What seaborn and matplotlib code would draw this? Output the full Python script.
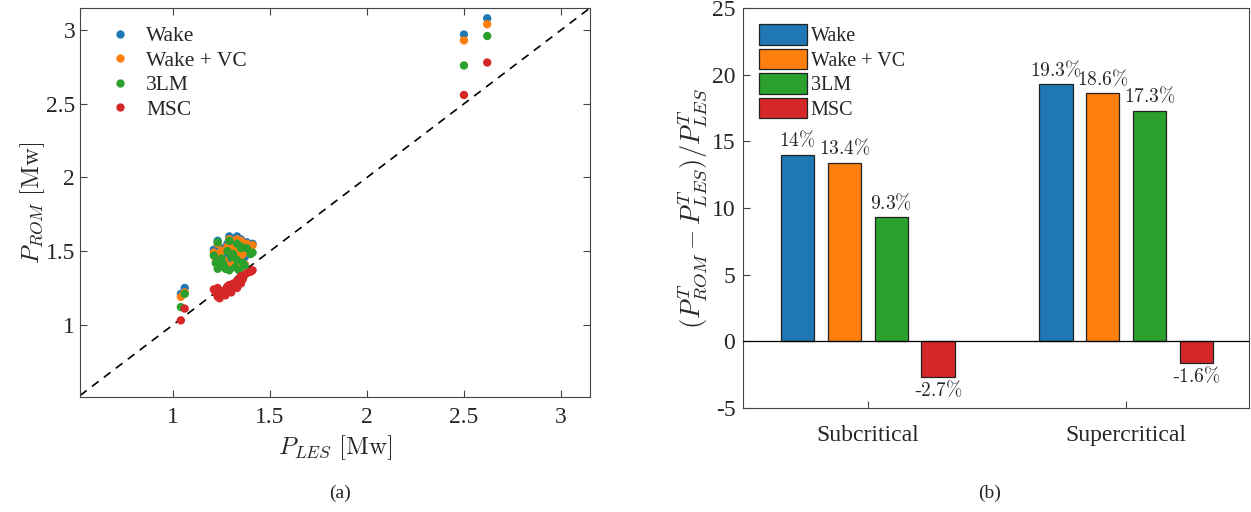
import numpy as np
import pandas as pd
import matplotlib
matplotlib.use("Agg")
import matplotlib.pyplot as plt
import seaborn as sns

# ---------------- data ----------------
models = ["Wake", "Wake + VC", "3LM", "MSC"]
colors = ["#1f77b4", "#ff7f0e", "#2ca02c", "#d62728"]

p_les = [1.04, 1.06,
         1.21, 1.22, 1.23, 1.23, 1.24, 1.25, 1.26, 1.27, 1.28, 1.29, 1.29, 1.30,
         1.31, 1.32, 1.33, 1.33, 1.34, 1.35, 1.36, 1.37, 1.38, 1.40, 1.41, 1.35,
         2.50, 2.62]
p_wake = [1.21, 1.25,
          1.51, 1.46, 1.57, 1.48, 1.44, 1.52, 1.47, 1.43, 1.55, 1.60, 1.45, 1.50,
          1.54, 1.47, 1.60, 1.52, 1.45, 1.58, 1.50, 1.46, 1.56, 1.53, 1.55, 1.49,
          2.97, 3.08]
p_wake_vc = [1.19, 1.22,
             1.49, 1.45, 1.55, 1.46, 1.42, 1.50, 1.44, 1.41, 1.53, 1.58, 1.40, 1.48,
             1.52, 1.42, 1.58, 1.50, 1.41, 1.57, 1.48, 1.41, 1.55, 1.52, 1.54, 1.47,
             2.93, 3.04]
p_3lm = [1.12, 1.21,
         1.47, 1.42, 1.56, 1.38, 1.40, 1.45, 1.41, 1.38, 1.50, 1.57, 1.37, 1.46,
         1.48, 1.39, 1.55, 1.44, 1.37, 1.53, 1.42, 1.40, 1.52, 1.48, 1.49, 1.52,
         2.76, 2.96]
p_msc = [1.03, 1.11,
         1.24, 1.22, 1.19, 1.25, 1.18, 1.21, 1.23, 1.20, 1.26, 1.24, 1.27, 1.22,
         1.28, 1.26, 1.30, 1.25, 1.29, 1.33, 1.31, 1.34, 1.35, 1.36, 1.37, 1.28,
         2.56, 2.78]

regimes = ["Subcritical", "Supercritical"]
err_wake = [14.0, 19.3]
err_wake_vc = [13.4, 18.6]
err_3lm = [9.3, 17.3]
err_msc = [-2.7, -1.6]
y_ticks = [-5, 0, 5, 10, 15, 20, 25]
x_ticks_a = [1, 1.5, 2, 2.5, 3]
y_ticks_a = [1, 1.5, 2, 2.5, 3]

# ---------------- style ----------------
sns.set_theme(style="ticks")
plt.rcParams["font.family"] = ["Liberation Serif", "DejaVu Serif"]
plt.rcParams["mathtext.fontset"] = "cm"
plt.rcParams["axes.unicode_minus"] = False
plt.rcParams["xtick.direction"] = "in"
plt.rcParams["ytick.direction"] = "in"
plt.rcParams["axes.edgecolor"] = "#262626"

fig = plt.figure(figsize=(12.51, 5.12), dpi=100)
ax1 = fig.add_axes([80 / 1251, 1 - 397 / 512, 510 / 1251, 389 / 512])
ax2 = fig.add_axes([743 / 1251, 1 - 408 / 512, 506 / 1251, 400 / 512])

TICK_FS = 17

# ---------------- panel (a) ----------------
series = [p_wake, p_wake_vc, p_3lm, p_msc]
df_a = pd.concat(
    [pd.DataFrame({"P_LES": p_les, "P_ROM": s, "model": m}) for s, m in zip(series, models)],
    ignore_index=True)
sns.scatterplot(data=df_a, x="P_LES", y="P_ROM", hue="model", hue_order=models,
                palette=colors, s=36, linewidth=0, ax=ax1, zorder=3)
ax1.axline((1, 1), slope=1, color="black", linestyle=(0, (5, 4)), linewidth=1.2, zorder=2)
ax1.set_xlim(0.52, 3.15)
ax1.set_ylim(0.51, 3.15)
ax1.set_xticks(x_ticks_a)
ax1.set_xticklabels([f"{v:g}" for v in x_ticks_a])
ax1.set_yticks(y_ticks_a)
ax1.set_yticklabels([f"{v:g}" for v in y_ticks_a])
ax1.tick_params(labelsize=TICK_FS, top=True, right=True, length=5, width=0.8,
                color="#444444")
ax1.tick_params(axis="x", pad=7)
ax1.set_xlabel(r"$P_{LES}\ [\mathrm{Mw}]$", fontsize=18, labelpad=4)
ax1.set_ylabel(r"$P_{ROM}\ [\mathrm{Mw}]$", fontsize=18, labelpad=-1)
leg1 = ax1.legend(loc="upper left", frameon=False, fontsize=15.5, handletextpad=0.2,
                  borderaxespad=0.0, labelspacing=0.2, markerscale=1.0,
                  bbox_to_anchor=(0.02, 0.975))
for sp in ax1.spines.values():
    sp.set_linewidth(0.8)
    sp.set_color("#444444")

# ---------------- panel (b) ----------------
errs = [err_wake, err_wake_vc, err_3lm, err_msc]
df_b = pd.concat(
    [pd.DataFrame({"regime": regimes, "err": e, "model": m}) for e, m in zip(errs, models)],
    ignore_index=True)
sns.barplot(data=df_b, x="regime", y="err", hue="model", hue_order=models,
            palette=colors, saturation=1, width=0.725, gap=0.29,
            edgecolor="#222222", linewidth=0.9, ax=ax2, zorder=3)
ax2.axhline(0, color="black", linewidth=0.9, zorder=4)
for cont in ax2.containers:
    labs = []
    neg = False
    for v in cont.datavalues:
        s = f"{abs(v):g}"
        labs.append(("-" if v < 0 else "") + f"${s}\\%$")
        neg = neg or v < 0
    ax2.bar_label(cont, labels=labs, padding=2 if neg else 3, fontsize=14)
ax2.set_xlim(-0.483, 1.475)
ax2.set_ylim(-5, 25)
ax2.set_yticks(y_ticks)
ax2.set_yticklabels([str(v) for v in y_ticks])
ax2.tick_params(labelsize=TICK_FS, length=5, width=0.8, color="#444444")
ax2.tick_params(axis="y", pad=5.5)
ax2.tick_params(axis="x", pad=12)
ax2.set_xlabel("")
ax2.set_ylabel(r"$(P^{T}_{ROM}-P^{T}_{LES})/P^{T}_{LES}$", fontsize=19, labelpad=1)
leg2 = ax2.legend(loc="upper left", frameon=False, fontsize=14.5, handlelength=2.4,
                  handleheight=1.2, handletextpad=0.15, labelspacing=0.12,
                  borderaxespad=0.0, bbox_to_anchor=(0.016, 0.98))
for sp in ax2.spines.values():
    sp.set_linewidth(0.8)
    sp.set_color("#444444")

fig.text(340 / 1251, 1 - 493 / 512, "(a)", ha="center", va="center", fontsize=14)
fig.text(990 / 1251, 1 - 493 / 512, "(b)", ha="center", va="center", fontsize=14)

fig.savefig("out.png", dpi=100)
